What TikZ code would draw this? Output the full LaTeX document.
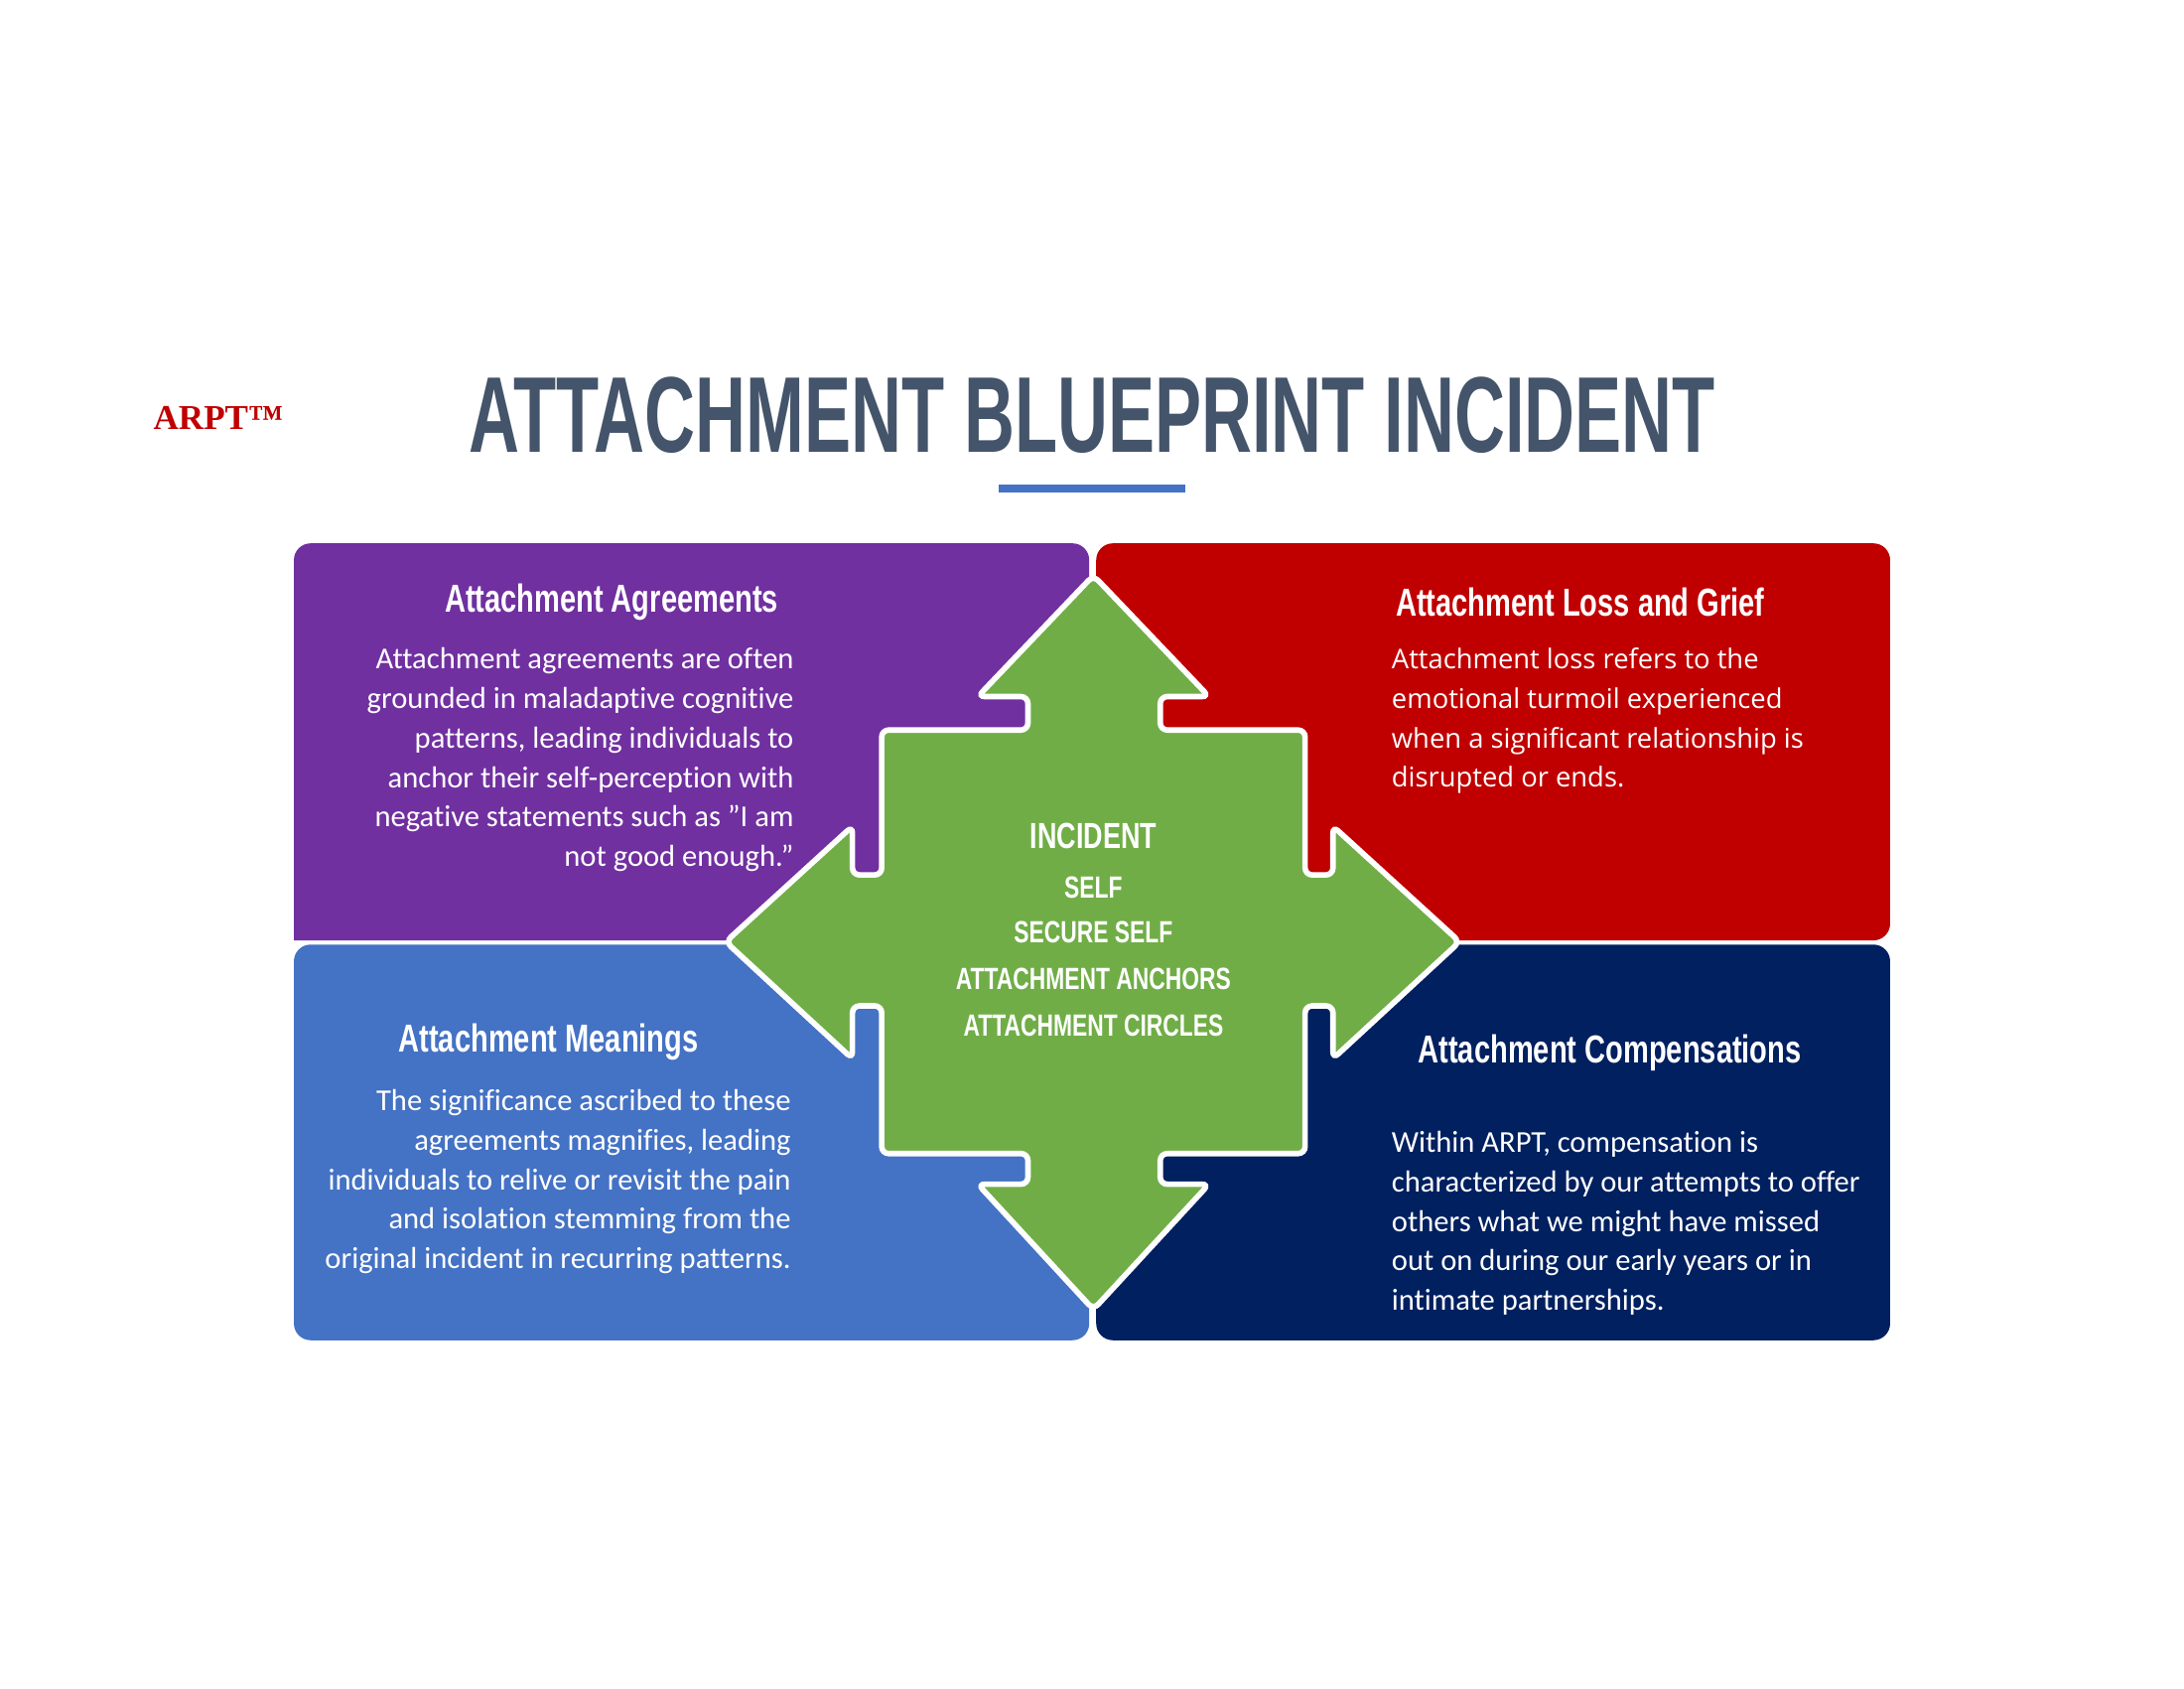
\documentclass[tikz,border=0pt]{standalone}
\usepackage{fontspec}
\setmainfont{Carlito}[RawFeature={-liga}]
\newfontfamily\headf{Liberation Sans}
\newfontfamily\opens{Open Sans}
\newfontfamily\serf{Liberation Serif}
\newcommand{\cond}[1]{\scalebox{0.74}[1]{#1}}
\definecolor{purp}{HTML}{7030A0}
\definecolor{redq}{HTML}{C00000}
\definecolor{blueq}{HTML}{4472C4}
\definecolor{navyq}{HTML}{002060}
\definecolor{greenq}{HTML}{70AD47}
\definecolor{slate}{HTML}{44546A}
\tikzset{
 head/.style={text=white,font=\headf\bfseries\fontsize{28}{30}\selectfont,inner sep=0},
 body/.style={text=white,font=\fontsize{21.8}{28.3}\selectfont,inner sep=0},
 ctr/.style={text=white,font=\headf\bfseries\fontsize{22}{24}\selectfont,inner sep=0},
}
\begin{document}
\begin{tikzpicture}[x=1pt,y=-1pt]
\fill[white] (0,0) rectangle (1568,1212);
\useasboundingbox (0,0) rectangle (1568,1212);
\node[text=redq,font=\serf\bfseries\fontsize{25}{28}\selectfont,anchor=west,inner sep=0] (arpt) at (110,300) {ARPT™};
\node[inner sep=0,text=slate] (title) at (784,298) {\resizebox{895pt}{54pt}{\headf\bfseries ATTACHMENT BLUEPRINT INCIDENT}};
\fill[blueq] (717,347.5) rectangle (851,353.5);
% quadrants
\fill[purp,rounded corners=12] (211,675) -- (211,390) -- (782,390) [sharp corners] -- (782,675) -- cycle;
\fill[redq,rounded corners=12] (787,675) -- (787,390) -- (1357,390) -- (1357,675) [sharp corners] -- cycle;
\fill[blueq,rounded corners=12] (782,678) -- (782,962) -- (211,962) -- (211,678) [sharp corners] -- cycle;
\fill[navyq,rounded corners=12] (787,678) -- (1357,678) -- (1357,962) -- (787,962) [sharp corners] -- cycle;
% cross
\draw[fill=greenq,draw=white,line width=4,rounded corners=5]
 (785,413) -- (868,500) -- (833,500) -- (833,524) -- (937,524) -- (937,628) -- (957,628) -- (957,593) -- (1048,676)
 -- (957,760) -- (957,722) -- (937,722) -- (937,828) -- (833,828) -- (833,850) -- (868,850) -- (785,940)
 -- (702,850) -- (738,850) -- (738,828) -- (633,828) -- (633,722) -- (612,722) -- (612,760) -- (521,676)
 -- (612,593) -- (612,628) -- (633,628) -- (633,524) -- (738,524) -- (738,500) -- (702,500) -- cycle;
\node[ctr,font=\headf\bfseries\fontsize{26}{28}\selectfont] (inc) at (785,600) {\cond{INCIDENT}};
\node[ctr] (c1) at (785,637) {\cond{SELF}};
\node[ctr] (c2) at (785,669) {\cond{SECURE SELF}};
\node[ctr] (c3) at (785,703) {\cond{ATTACHMENT ANCHORS}};
\node[ctr] (c4) at (785,736) {\cond{ATTACHMENT CIRCLES}};
% headings
\node[head,anchor=east] (h1) at (559,432) {\cond{Attachment Agreements}};
\node[head,anchor=west] (h2) at (1002,432) {\cond{Attachment Loss and Grief}};
\node[head,anchor=west] (h3) at (286,748) {\cond{Attachment Meanings}};
\node[head,anchor=west] (h4) at (1018,756) {\cond{Attachment Compensations}};
% bodies
\node[body,align=right,anchor=north east] (b1) at (570,465) {Attachment agreements are often\\grounded in maladaptive cognitive\\patterns, leading individuals to\\anchor their self-perception with\\negative statements such as "I am\\not good enough."};
\node[body,font=\opens\fontsize{19.5}{28.3}\selectfont,align=left,anchor=north west] (b2) at (999,465) {Attachment loss refers to the\\emotional turmoil experienced\\when a significant relationship is\\disrupted or ends.};
\node[body,align=right,anchor=north east] (b3) at (568,782) {The significance ascribed to these\\agreements magnifies, leading\\individuals to relive or revisit the pain\\and isolation stemming from the\\original incident in recurring patterns.};
\node[body,align=left,anchor=north west] (b4) at (999,812) {Within ARPT, compensation is\\characterized by our attempts to offer\\others what we might have missed\\out on during our early years or in\\intimate partnerships.};
\end{tikzpicture}
\end{document}
